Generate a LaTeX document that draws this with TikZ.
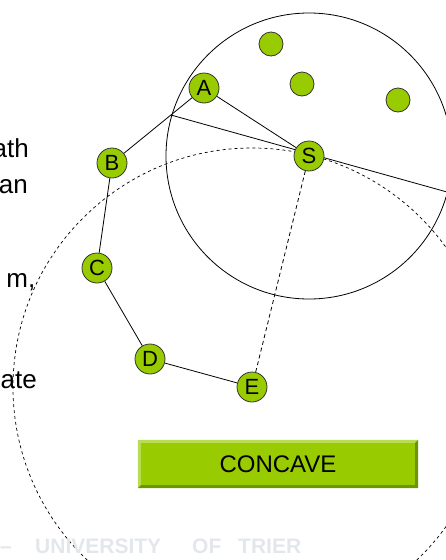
\documentclass[tikz,border=0pt]{standalone}
\usepackage{fontspec}
\setmainfont{Liberation Sans}
\usetikzlibrary{calc,backgrounds}

\definecolor{leaf}{HTML}{99CC00}
\definecolor{leaflight}{HTML}{B8DD55}
\definecolor{leafdark}{HTML}{6E9400}
\definecolor{mark}{HTML}{E3E7EB}

\begin{document}
\begin{tikzpicture}[x=1pt,y=-1pt]

\def\rad{143pt}
\def\bev{3pt}

\tikzset{vertex/.style = {draw=black!80, circle, fill=leaf, line width=0.8pt, minimum size=30pt, inner sep=0pt, font=\fontsize{22}{22}\selectfont},
         dot/.style = {vertex, minimum size=24pt},
         edge/.style = {line width=0.8pt},
         reach/.style = {line width=0.7pt, dash pattern=on 3pt off 3pt},
         side/.style = {font=\fontsize{26}{31}\selectfont, inner sep=0pt, anchor=base east},
         button/.style = {fill=leaf, minimum width=280pt, minimum height=48pt, inner sep=0pt, font=\fontsize{24}{24}\selectfont},
         brand/.style = {text=mark, font=\bfseries\fontsize{21}{21}\selectfont, inner sep=0pt, anchor=base west}}

\useasboundingbox (0,0) rectangle (445,560);

% text of the slide, cut at the left edge
\node[side] (t1) at (29,157) {ath};
\node[side] (t2) at (28,193.5) {an};
\node[side] (t3) at (35.5,287) {m,};
\node[side] (t4) at (37,388) {ate};

% polygon and sites
\node[vertex] (A) at (204,88) {A};
\node[vertex] (B) at (112,163) {B};
\node[vertex] (C) at (97,268) {C};
\node[vertex] (D) at (150,359) {D};
\node[vertex] (E) at (252,387) {E};
\node[vertex] (S) at (309,156) {S};
\node[dot] (p1) at (271,44) {};
\node[dot] (p2) at (302,84) {};
\node[dot] (p3) at (398,100) {};

\coordinate (P) at ($(B.center)!0.64!(A.center)$);
\coordinate (Q) at (447,192);

\begin{scope}[on background layer]
\draw[edge] (S.center) circle (\rad);
\draw[reach] (E.center) circle (239pt);
\draw[edge] (B) -- (A);
\draw[edge] (B) -- (C);
\draw[edge] (C) -- (D);
\draw[edge] (D) -- (E);
\draw[edge] (A) -- (S);
\draw[edge] (P) -- (Q);
\draw[reach, line width=0.8pt, dash pattern=on 4pt off 3pt] (S) -- (E);
\end{scope}

% button
\node[button] (cc) at (278,464) {CONCAVE};
\fill[leaflight] (cc.south west) -- (cc.north west) -- (cc.north east) -- ([xshift=-\bev,yshift=-\bev]cc.north east) -- ([xshift=\bev,yshift=-\bev]cc.north west) -- ([xshift=\bev,yshift=\bev]cc.south west) -- cycle;
\fill[leafdark] (cc.south west) -- (cc.south east) -- (cc.north east) -- ([xshift=-\bev,yshift=-\bev]cc.north east) -- ([xshift=-\bev,yshift=\bev]cc.south east) -- ([xshift=\bev,yshift=\bev]cc.south west) -- cycle;

% footer mark
\node[brand] (w0) at (0,553) {–};
\node[brand] (w1) at (35,553) {UNIVERSITY};
\node[brand] (w2) at (192,553) {OF};
\node[brand] (w3) at (238,553) {TRIER};

\end{tikzpicture}
\end{document}
